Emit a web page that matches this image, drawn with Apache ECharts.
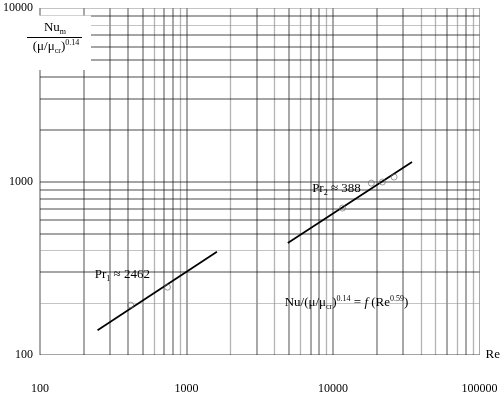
<!DOCTYPE html>
<html><head><meta charset="utf-8">
<script src="https://cdn.jsdelivr.net/npm/echarts@6/dist/echarts.min.js"></script>
<style>html,body{margin:0;padding:0;background:#fff}#c{width:503px;height:398px}</style>
</head><body><div id="c"></div>
<script>
// ---- data ----
const xTickLabels = [100, 1000, 10000, 100000];
const yTickLabels = [100, 1000, 10000];
const xGrid = [100,200,300,400,500,600,700,800,900,
               1000,2000,3000,4000,5000,6000,7000,8000,9000,
               10000,20000,30000,40000,50000,60000,70000,80000,90000,100000];
const yGrid = [100,200,300,400,500,600,700,800,900,
               1000,2000,3000,4000,5000,6000,7000,8000,9000,10000];
const xGridLight = [600, 900, 2000, 4000, 6000, 9000, 40000, 50000, 70000, 90000];
const yGridLight = [200, 400, 8000, 10000];
const fit1 = [[247, 139], [1613, 394]];          // Pr1 ≈ 2462
const fit2 = [[4913, 442], [34600, 1294]];       // Pr2 ≈ 388
const pts1 = [[416, 194], [741, 246]];
const pts2 = [[11600, 703], [18240, 979], [21700, 993], [26100, 1061]];
// annotation boxes (data coords: [Re1, Nu1], [Re2, Nu2])
const labelPr1 = [[216, 343], [615, 247]];
const labelPr2 = [[6607, 1061], [16870, 773]];
const labelFormula = [[4140, 253], [36900, 159]];

const FONT = "'Liberation Serif','Times New Roman',serif";
const rich = {
  n: {fontFamily: FONT, fontSize: 13, color: '#000', lineHeight: 16},
  s: {fontFamily: FONT, fontSize: 8, color: '#000', lineHeight: 8, verticalAlign: 'bottom'},
  p: {fontFamily: FONT, fontSize: 8, color: '#000', lineHeight: 8, verticalAlign: 'top'},
  i: {fontFamily: FONT, fontSize: 13, color: '#000', lineHeight: 16, fontStyle: 'italic'}
};

const gridData = [];
xGrid.forEach(v => gridData.push({
  coords: [[v, 100], [v, 10000]],
  lineStyle: {color: xGridLight.includes(v) ? '#6a6a6a' : '#1a1a1a', width: xGridLight.includes(v) ? 1.3 : 1.5}
}));
yGrid.forEach(v => gridData.push({
  coords: [[100, v], [100000, v]],
  lineStyle: {color: yGridLight.includes(v) ? '#8a8a8a' : '#111', width: yGridLight.includes(v) ? 1.2 : 1.5}
}));

function area(box, text) {
  return [{coord: box[0], label: {show: true, position: 'inside', formatter: text, rich: rich}},
          {coord: box[1]}];
}

const chart = echarts.init(document.getElementById('c'), null, {renderer: 'canvas'});
chart.setOption({
  animation: false,
  backgroundColor: '#fff',
  grid: {left: 39, right: 22, top: 8, bottom: 43, containLabel: false},
  xAxis: {
    type: 'log', logBase: 10, min: 100, max: 100000,
    axisLine: {show: false}, axisTick: {show: false}, splitLine: {show: false},
    axisLabel: {margin: 28, fontFamily: FONT, fontSize: 12, color: '#000',
      formatter: v => String(Math.round(v))},
    name: 'Re', nameLocation: 'end', nameGap: 6,
    nameTextStyle: {fontFamily: FONT, fontSize: 13, color: '#000', padding: [0, 0, 20, 0]}
  },
  yAxis: {
    type: 'log', logBase: 10, min: 100, max: 10000,
    axisLine: {show: false}, axisTick: {show: false}, splitLine: {show: false},
    axisLabel: {margin: 7, fontFamily: FONT, fontSize: 12, color: '#000',
      formatter: v => String(Math.round(v))}
  },
  series: [
    {type: 'lines', coordinateSystem: 'cartesian2d', z: 1, silent: true, data: gridData},
    {type: 'line', data: fit1, z: 3, symbol: 'none', lineStyle: {color: '#000', width: 1.7}},
    {type: 'line', data: fit2, z: 3, symbol: 'none', lineStyle: {color: '#000', width: 1.7}},
    {type: 'scatter', data: pts1.concat(pts2), z: 4, symbol: 'circle', symbolSize: 6,
      itemStyle: {color: 'rgba(255,255,255,0)', borderColor: '#666', borderWidth: 0.8}},
    {type: 'line', data: [], z: 6, silent: true,
      markArea: {silent: true, itemStyle: {color: '#fff'},
        data: [
          area(labelPr1, '{n|Pr}{s|1}{n| ≈ 2462}'),
          area(labelPr2, '{n|Pr}{s|2}{n| ≈ 388}'),
          area(labelFormula, '{n|Nu/(μ/μ}{s|cr}{n|)}{p|0.14}{n| = }{i|f}{n| (Re}{p|0.59}{n|)}')
        ]}}
  ],
  graphic: [
    {type: 'rect', z: 20, shape: {x: 0, y: 15.5, width: 91, height: 54.5}, style: {fill: '#fff'}},
    {type: 'text', z: 21, x: 55, y: 28, style: {text: '{n|Nu}{s|m}', rich: rich, align: 'center', verticalAlign: 'middle'}},
    {type: 'line', z: 21, shape: {x1: 27, y1: 37.5, x2: 82, y2: 37.5}, style: {stroke: '#000', lineWidth: 1}},
    {type: 'text', z: 21, x: 56, y: 47, style: {text: '{n|(μ/μ}{s|cr}{n|)}{p|0.14}', rich: rich, align: 'center', verticalAlign: 'middle'}}
  ]
});
</script></body></html>
